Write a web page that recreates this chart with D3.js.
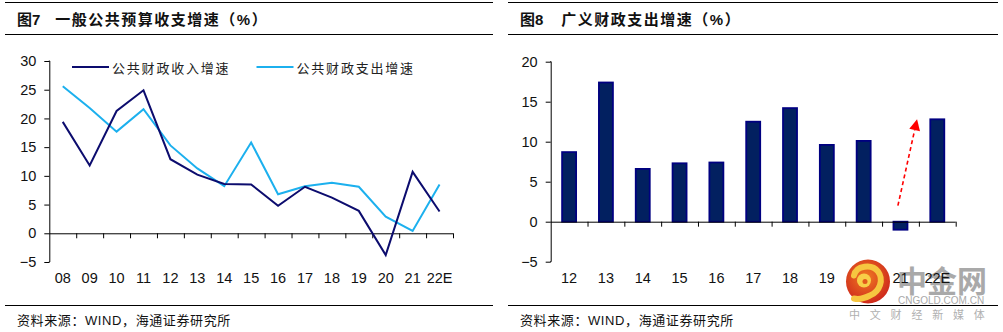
<!DOCTYPE html>
<html><head><meta charset="utf-8">
<script src="https://cdn.jsdelivr.net/npm/d3@7"></script>
<style>
html,body{margin:0;padding:0;background:#fff;}
svg{display:block;font-family:"Liberation Sans","Noto Sans CJK SC",sans-serif;}
</style></head>
<body>
<svg id="c" width="1003" height="332"></svg>
<script>
// ---- data ----
const yearsL = ["08","09","10","11","12","13","14","15","16","17","18","19","20","21","22E"];
const revenue = [19.4, 11.8, 21.3, 24.9, 12.9, 10.2, 8.6, 8.5, 4.8, 8.1, 6.2, 3.9, -3.8, 10.7, 3.8];
const expenditure = [25.6, 21.8, 17.7, 21.6, 15.3, 11.3, 8.2, 15.8, 6.8, 8.2, 8.8, 8.1, 2.9, 0.4, 8.5];
const seriesNames = ["公共财政收入增速", "公共财政支出增速"];
const yTicksL = [-5, 0, 5, 10, 15, 20, 25, 30];

const yearsR = ["12","13","14","15","16","17","18","19","20","21","22E"];
const broadSpend = [8.7, 17.4, 6.6, 7.3, 7.4, 12.5, 14.2, 9.6, 10.1, -1.0, 12.8];
const yTicksR = [-5, 0, 5, 10, 15, 20];
// arrow annotation in data units: [band index position, value]
const arrowFrom = [9.43, 2.0];
const arrowTo = [9.95, 12.8];

const titleL = ["图7", "一般公共预算收支增速（%）"];
const titleR = ["图8", "广义财政支出增速（%）"];
const source = "资料来源：WIND，海通证券研究所";

// ---- drawing ----
const svg = d3.select("#c");
const navy = "#0c0c6e", sky = "#1cb0ee", barFill = "#022060", barStroke = "#000080";
const defs = svg.append("defs");

// watermark text (behind)
const wm = svg.append("g");
wm.append("text").attr("x",897).attr("y",279).attr("dominant-baseline","central")
  .attr("font-family","Noto Sans CJK SC").attr("font-weight",700).attr("font-size",30)
  .attr("fill","#a9a9a9").text("中金网");
wm.append("text").attr("x",898).attr("y",300).attr("dominant-baseline","central")
  .attr("font-size",10).attr("fill","#a9a9a9").text("CNGOLD.COM.CN");
wm.append("text").attr("x",849).attr("y",314).attr("dominant-baseline","central")
  .attr("font-family","Noto Sans CJK SC").attr("font-size",11).attr("letter-spacing","9.8px")
  .attr("fill","#b0b0b0").text("中文财经新媒体");

function frame(x0, x1, title){
  svg.append("line").attr("x1",x0).attr("x2",x1).attr("y1",2.5).attr("y2",2.5).attr("stroke","#000");
  svg.append("line").attr("x1",x0).attr("x2",x1).attr("y1",34.5).attr("y2",34.5).attr("stroke","#000");
  svg.append("line").attr("x1",x0).attr("x2",x1).attr("y1",305.5).attr("y2",305.5).attr("stroke","#000");
  const t = svg.append("text").attr("x",x0+12).attr("y",19).attr("dominant-baseline","central")
    .attr("font-size",15).attr("font-weight",700).attr("fill","#111");
  t.append("tspan").text(title[0]);
  t.append("tspan").attr("dx", title[0]==="图7"?15:18).attr("letter-spacing","1.5px").text(title[1]);
  svg.append("text").attr("x",x0+12).attr("y",320).attr("dominant-baseline","central")
    .attr("font-size",13).attr("letter-spacing","0.6px").attr("fill","#111").text(source);
}
frame(5, 493, titleL);
frame(508, 998, titleR);

function axes(g, x, y, yTicks, cats, xl, xr){
  const n = cats.length;
  g.append("g").attr("transform",`translate(${xl},0)`)
    .call(d3.axisLeft(y).tickValues(yTicks).tickSize(5).tickPadding(8).tickFormat(d3.format("d")))
    .call(a=>{a.selectAll("text").attr("font-size",14.5).attr("fill","#111").attr("font-family","Liberation Sans");
      a.select(".domain").attr("d",`M-0.5,${y(yTicks[yTicks.length-1])}H0.5V${y(yTicks[0])}H-0.5`).attr("stroke","#000");});
  const xi = d3.scaleLinear().domain([0,n]).range([xl,xr]);
  g.append("g").attr("transform",`translate(0,${y(0)})`)
    .call(d3.axisBottom(xi).tickValues(d3.range(1,n+1)).tickSize(5).tickFormat(""))
    .call(a=>a.select(".domain").attr("d",`M${xl},0.5H${xr}`).attr("stroke","#000"));
  g.append("g").attr("transform",`translate(0,${y(yTicks[0])})`)
    .call(d3.axisBottom(x).tickSize(0).tickPadding(11))
    .call(a=>{a.select(".domain").remove();
      a.selectAll("text").attr("font-size",14.5).attr("fill","#111").attr("font-family","Liberation Sans");});
  return xi;
}

// left chart
{
  const g = svg.append("g");
  const xl = 49.3, xr = 453;
  const x = d3.scaleBand().domain(yearsL).range([xl,xr]);
  const y = d3.scaleLinear().domain([-5,30]).range([262,61]);
  axes(g, x, y, yTicksL, yearsL, xl, xr);
  const line = d3.line().x((d,i)=>x(yearsL[i])+x.bandwidth()/2).y(d=>y(d));
  g.append("path").datum(expenditure).attr("d",line).attr("fill","none").attr("stroke",sky).attr("stroke-width",2);
  g.append("path").datum(revenue).attr("d",line).attr("fill","none").attr("stroke",navy).attr("stroke-width",2);
  // legend
  const leg = [[72,navy,seriesNames[0]],[256.5,sky,seriesNames[1]]];
  leg.forEach(([lx,c,t])=>{
    g.append("line").attr("x1",lx).attr("x2",lx+37).attr("y1",67).attr("y2",67).attr("stroke",c).attr("stroke-width",2);
    g.append("text").attr("x",lx+40).attr("y",67).attr("dominant-baseline","central")
      .attr("font-family","Noto Sans CJK SC").attr("font-size",13).attr("letter-spacing","1.8px").attr("fill","#222").text(t);
  });
}

// right chart
{
  const g = svg.append("g");
  const xl = 550.7, xr = 955.7;
  const xb = d3.scaleBand().domain(yearsR).range([xl,xr]);
  const y = d3.scaleLinear().domain([-5,20]).range([261.7,61.7]);
  g.selectAll("rect").data(broadSpend).join("rect")
    .attr("x",(d,i)=>xb(yearsR[i])+xb.bandwidth()/2-7)
    .attr("width",14)
    .attr("y",d=>y(Math.max(0,d)))
    .attr("height",d=>Math.abs(y(d)-y(0)))
    .attr("fill",barFill).attr("stroke",barStroke).attr("stroke-width",1.8);
  const xi = axes(g, xb, y, yTicksR, yearsR, xl, xr);
  // arrow
  const x1 = xi(arrowFrom[0]), y1 = y(arrowFrom[1]), x2 = xi(arrowTo[0]), y2 = y(arrowTo[1]);
  const ang = Math.atan2(y2-y1, x2-x1);
  const hl = 11, hw = 5.5;
  const bx = x2 - hl*Math.cos(ang), by = y2 - hl*Math.sin(ang);
  g.append("line").attr("x1",x1).attr("y1",y1).attr("x2",bx).attr("y2",by)
    .attr("stroke","#ff0000").attr("stroke-width",1.6).attr("stroke-dasharray","4,3");
  const px = -Math.sin(ang), py = Math.cos(ang);
  g.append("path").attr("d",`M${x2},${y2}L${bx+px*hw},${by+py*hw}L${bx-px*hw},${by-py*hw}Z`).attr("fill","#ff0000");
}

// watermark logo (on top, covers the label beneath as in the reference)
const rg = defs.append("radialGradient").attr("id","lg").attr("cx","45%").attr("cy","40%").attr("r","60%");
rg.append("stop").attr("offset","0%").attr("stop-color","#f07a22");
rg.append("stop").attr("offset","100%").attr("stop-color","#cf2a1c");
const lg = svg.append("g").attr("transform","translate(868,281.5)");
lg.append("circle").attr("r",22).attr("fill","url(#lg)");
lg.append("path").attr("d","M-14,-6 C-12,-16 4,-18 10,-10 C16,-2 12,10 2,14 C-4,17 -10,18 -14,17")
  .attr("fill","none").attr("stroke","#f6c640").attr("stroke-width",6).attr("stroke-linecap","round");
lg.append("circle").attr("cx",-4).attr("cy",-1).attr("r",7).attr("fill","#f8cf48");
lg.append("circle").attr("cx",-3).attr("cy",0).attr("r",2.5).attr("fill","#e25a1c");
</script>
</body></html>
